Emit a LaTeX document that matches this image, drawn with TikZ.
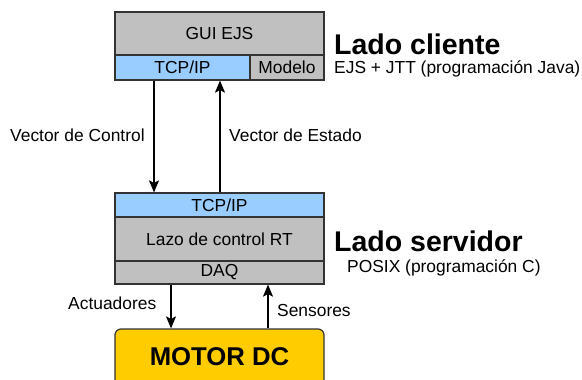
\documentclass[tikz,border=0pt]{standalone}
\usepackage{fontspec}
\setmainfont{Liberation Sans}
\usetikzlibrary{arrows.meta}
\definecolor{boxgrey}{HTML}{C0C0C0}
\definecolor{boxblue}{HTML}{99CCFF}
\definecolor{motory}{HTML}{FFCC00}
\begin{document}
\begin{tikzpicture}[x=1pt,y=-1pt,
  blk/.style={draw=black!80,line width=1.2pt,inner sep=0pt,fill=boxgrey,
    font=\fontsize{17.4}{20}\selectfont},
  lbl/.style={inner sep=0pt,anchor=west,font=\fontsize{17.4}{20}\selectfont},
  big/.style={inner sep=0pt,anchor=west,font=\fontsize{28.5}{32}\selectfont\bfseries},
  conn/.style={line width=1.2pt,-{Stealth[length=12pt,width=10pt,inset=2.5pt]}}]
\useasboundingbox (0,0) rectangle (582,380);
% client
\node[blk,minimum width=209pt,minimum height=43pt] (gui) at (219.5,33.5) {GUI EJS};
\node[blk,fill=boxblue,minimum width=135pt,minimum height=25pt] (tcpa) at (182.5,67.5) {TCP/IP};
\node[blk,minimum width=74pt,minimum height=25pt] (modelo) at (287,67.5) {Modelo};
% server
\node[blk,fill=boxblue,minimum width=209pt,minimum height=24pt] (tcpb) at (219.5,205) {TCP/IP};
\node[blk,minimum width=209pt,minimum height=44pt] (lazo) at (219.5,239) {Lazo de control RT};
\node[blk,minimum width=209pt,minimum height=23pt] (daq) at (219.5,272.5) {DAQ};
% motor
\begin{scope}
\clip (0,0) rectangle (582,380);
\node[draw=black!80,line width=1.2pt,fill=motory,rounded corners=6pt,
  minimum width=209pt,minimum height=70pt,inner sep=0pt] (motor) at (219.5,364) {};
\end{scope}
\node[inner sep=0pt,font=\fontsize{25.7}{30}\selectfont\bfseries] (motortxt) at (219.5,357) {MOTOR DC};
% connectors
\coordinate (xa) at (154,0);
\coordinate (xb) at (220,0);
\coordinate (xc) at (171,0);
\coordinate (xd) at (268,0);
\draw[conn] (tcpa.south -| xa) -- (tcpb.north -| xa);
\draw[conn] (tcpb.north -| xb) -- (tcpa.south -| xb);
\draw[conn] (daq.south -| xc) -- (motor.north -| xc);
\draw[conn] (motor.north -| xd) -- (daq.south -| xd);
% labels
\node[lbl] (vc) at (10,135) {Vector de Control};
\node[lbl] (ve) at (229,135) {Vector de Estado};
\node[lbl] (act) at (68,303) {Actuadores};
\node[lbl] (sen) at (277,311) {Sensores};
\node[big] (lc) at (334,44) {Lado cliente};
\node[lbl] (ejs) at (334,69) {EJS + JTT (programación Java)};
\node[big] (ls) at (334,241) {Lado servidor};
\node[lbl] (posix) at (347,268) {POSIX (programación C)};
\end{tikzpicture}
\end{document}
